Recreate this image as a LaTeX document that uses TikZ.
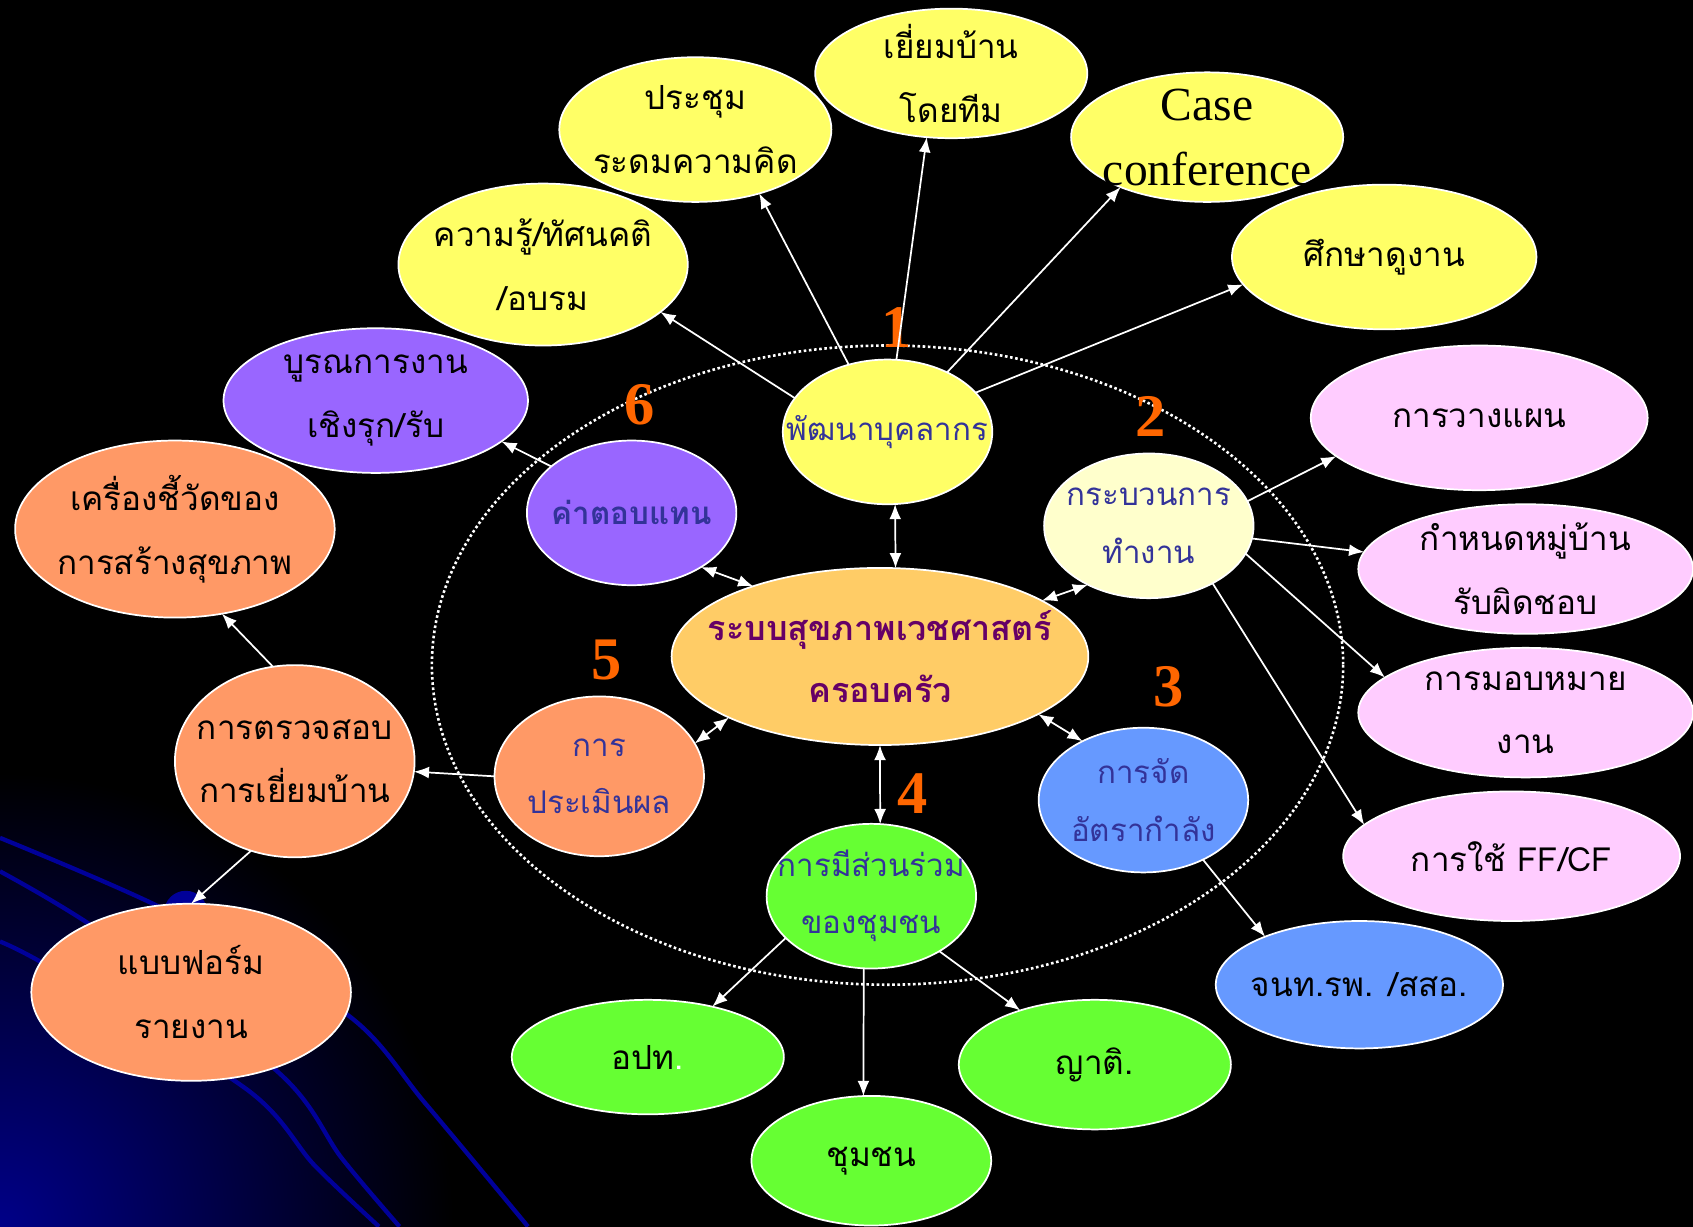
\documentclass[tikz,border=0pt]{standalone}
\usepackage{fontspec}
\setmainfont{Liberation Serif}
\newfontfamily\thaifont[Script=Thai]{Loma}
\usetikzlibrary{shapes.geometric,arrows.meta}

\definecolor{ylw}{HTML}{FFFF66}
\definecolor{ltylw}{HTML}{FFFFCC}
\definecolor{corefill}{HTML}{FFCC66}
\definecolor{pnk}{HTML}{FFCCFF}
\definecolor{blu}{HTML}{6699FF}
\definecolor{grn}{HTML}{66FF33}
\definecolor{slm}{HTML}{FF9966}
\definecolor{prp}{HTML}{9966FF}
\definecolor{ink}{HTML}{333399}
\definecolor{plum}{HTML}{660066}
\definecolor{numor}{HTML}{FF6600}
\definecolor{deepblue}{HTML}{000088}
\definecolor{lineblue}{HTML}{000099}

\tikzset{
  bub/.style={ellipse, draw=white, line width=0.8pt, fill=#1, inner sep=0pt, outer sep=0pt},
  outtxt/.style={align=center, text=black, font=\thaifont\fontsize{15.4}{29.5}\selectfont},
  intxt/.style={align=center, text=ink, font=\thaifont\fontsize{14.5}{26.5}\selectfont},
  numlbl/.style={text=numor, font=\bfseries\fontsize{28}{28}\selectfont},
  link/.style={draw=white, line width=0.8pt, -{Latex[length=7pt,width=5.5pt]}},
  twoway/.style={draw=white, line width=0.8pt, {Latex[length=7pt,width=5.5pt]}-{Latex[length=7pt,width=5.5pt]}},
}

\begin{document}
\begin{tikzpicture}[x=0.5pt,y=-0.5pt]
\useasboundingbox (0,0) rectangle (1568,1136);
\fill[black] (0,0) rectangle (1568,1136);
\begin{scope}
\clip (0,0) rectangle (1568,1136);
\shade[inner color=deepblue, outer color=black] (0,1136) circle (420);
\end{scope}
% background curves
\draw[lineblue, line width=2pt] plot[smooth] coordinates {(0,776) (156,844) (322,940) (394,1022) (489,1136)};
\draw[lineblue, line width=2pt] plot[smooth] coordinates {(0,807) (99,867) (262,997) (316,1072) (370,1136)};
\draw[lineblue, line width=2pt] plot[smooth] coordinates {(0,872) (50,898) (230,1010) (291,1079) (351,1136)};
\fill[lineblue] (172,845) circle (20);
% dotted ring
\draw[white, line width=1.2pt, dash pattern=on 1.2pt off 1.2pt] (822,616) ellipse (422 and 296);

% outer nodes
\node[bub=ylw, minimum width=134pt, minimum height=75pt, label={[outtxt]center:{ความรู้/ทัศนคติ\\/อบรม}}] (train) at (503,245) {};
\node[bub=ylw, minimum width=126pt, minimum height=67pt, label={[outtxt]center:{ประชุม\\ระดมความคิด}}] (meet) at (644,120) {};
\node[bub=ylw, minimum width=126pt, minimum height=60pt, label={[outtxt]center:{เยี่ยมบ้าน\\โดยทีม}}] (visit) at (881,68) {};
\node[bub=ylw, minimum width=126pt, minimum height=60pt, label={[align=center, font=\fontsize{22}{30}\selectfont]center:{Case\\conference}}] (case) at (1118,127) {};
\node[bub=ylw, minimum width=141pt, minimum height=67pt, label={[outtxt]center:ศึกษาดูงาน}] (study) at (1282,238) {};
\node[bub=pnk, minimum width=156pt, minimum height=67pt, label={[outtxt]center:การวางแผน}] (plan) at (1370,387) {};
\node[bub=pnk, minimum width=155pt, minimum height=60pt, label={[outtxt]center:{กำหนดหมู่บ้าน\\รับผิดชอบ}}] (village) at (1413,527) {};
\node[bub=pnk, minimum width=155pt, minimum height=60pt, label={[outtxt]center:{การมอบหมาย\\งาน}}] (assign) at (1413,660) {};
\node[bub=pnk, minimum width=156pt, minimum height=60pt, label={[outtxt]center:การใช้ FF/CF}] (ffcf) at (1400,793) {};
\node[bub=blu, minimum width=133pt, minimum height=59pt, label={[outtxt]center:จนท.รพ. /สสอ.}] (officer) at (1259,912) {};
\node[bub=grn, minimum width=126pt, minimum height=60pt, label={[outtxt]center:ญาติ.}] (kin) at (1014,986) {};
\node[bub=grn, minimum width=111pt, minimum height=60pt, label={[outtxt]center:ชุมชน}] (people) at (807,1075) {};
\node[bub=grn, minimum width=126pt, minimum height=53pt, label={[outtxt]center:อปท\textcolor{white}{.}}] (lgo) at (600,979) {};
\node[bub=slm, minimum width=148pt, minimum height=82pt, label={[outtxt]center:{แบบฟอร์ม\\รายงาน}}] (form) at (177,919) {};
\node[bub=slm, minimum width=111pt, minimum height=89pt, label={[outtxt]center:{การตรวจสอบ\\การเยี่ยมบ้าน}}] (check) at (273,705) {};
\node[bub=slm, minimum width=148pt, minimum height=82pt, label={[outtxt]center:{เครื่องชี้วัดของ\\การสร้างสุขภาพ}}] (indic) at (162,490) {};
\node[bub=prp, minimum width=141pt, minimum height=67pt, label={[outtxt]center:{บูรณการงาน\\เชิงรุก/รับ}}] (integ) at (348,371) {};

% inner nodes
\node[bub=ylw, minimum width=97pt, minimum height=67pt, label={[intxt]center:พัฒนาบุคลากร}] (dev) at (822,400) {};
\node[bub=corefill, minimum width=193pt, minimum height=82pt, label={[intxt, text=plum, font=\thaifont\bfseries\fontsize{15.8}{28.5}\selectfont]center:{ระบบสุขภาพเวชศาสตร์\\ครอบครัว}}] (core) at (815,608) {};
\node[bub=ltylw, minimum width=97pt, minimum height=67pt, label={[intxt]center:{กระบวนการ\\ทำงาน}}] (proc) at (1064,487) {};
\node[bub=blu, minimum width=97pt, minimum height=67pt, label={[intxt]center:{การจัด\\อัตรากำลัง}}] (staff) at (1059,741) {};
\node[bub=grn, minimum width=97pt, minimum height=67pt, label={[intxt]center:{การมีส่วนร่วม\\ของชุมชน}}] (comm) at (807,830) {};
\node[bub=slm, minimum width=97pt, minimum height=74pt, label={[intxt]center:{การ\\ประเมินผล}}] (eval) at (555,719) {};
\node[bub=prp, minimum width=97pt, minimum height=67pt, label={[intxt, font=\thaifont\bfseries\fontsize{14.5}{26.5}\selectfont]center:ค่าตอบแทน}] (pay) at (585,475) {};

% numbers
\node[numlbl] (n1) at (830,303) {1};
\node[numlbl] (n2) at (1066,386) {2};
\node[numlbl] (n3) at (1082,636) {3};
\node[numlbl] (n4) at (845,735) {4};
\node[numlbl] (n5) at (562,611) {5};
\node[numlbl] (n6) at (592,375) {6};

% arrows out
\draw[link] (dev.160) -- (train.-22);
\draw[link] (dev.120) -- (meet.-45);
\draw[link] (dev.83) -- (visit.-111);
\draw[link] (dev.45) -- (case.-150);
\draw[link] (dev.24) -- (study.-169);
\draw[link] (proc.14) -- (plan.-165);
\draw[link] (proc.-7) -- (village.174);
\draw[link] (proc.-16) -- (assign.166);
\draw[link] (proc.-42) -- (ffcf.168);
\draw[link] (staff.-45) -- (officer.153);
\draw[link] (comm.-154) -- (lgo.38);
\draw[link] (comm.-96) -- (people.97);
\draw[link] (comm.-39) -- (kin.144);
\draw[link] (eval.180) -- (check.-5);
\draw[link] (check.103) -- (indic.-61);
\draw[link] (check.-116) -- (form.90);
\draw[link] (pay.150) -- (integ.-18);
% arrows to core
\draw[twoway] (dev.-84) -- (core.80);
\draw[twoway] (proc.-136) -- (core.19);
\draw[twoway] (staff.136) -- (core.-20);
\draw[twoway] (comm.83) -- (core.-90);
\draw[twoway] (eval.19) -- (core.-158);
\draw[twoway] (pay.-38) -- (core.151);
\end{tikzpicture}
\end{document}
